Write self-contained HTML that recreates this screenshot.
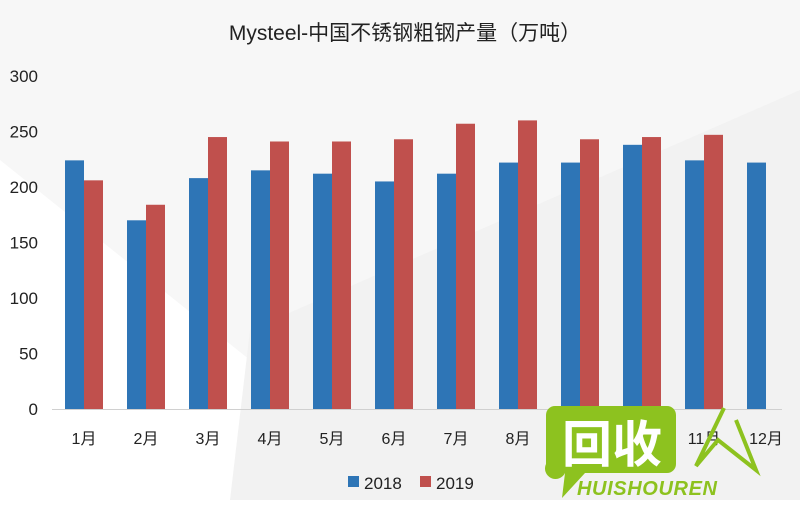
<!DOCTYPE html>
<html><head><meta charset="utf-8"><style>
body{margin:0;width:800px;height:500px;overflow:hidden;background:#fff;font-family:"Liberation Sans","Noto Sans CJK SC",sans-serif}
</style></head><body>
<svg id="c" width="800" height="500" xmlns="http://www.w3.org/2000/svg">
<polygon points="0,0 800,0 800,140 300,400 0,160" fill="#f7f7f7"/>
<polygon points="230,500 250,330 800,90 800,500" fill="#f2f2f2"/>
<text x="405" y="40" text-anchor="middle" font-size="21" fill="#222">Mysteel-中国不锈钢粗钢产量（万吨）</text>
<g id="axis"></g><g id="bars"></g>
<g>
<rect x="348" y="476" width="11" height="11" fill="#2e75b6"/>
<text x="364" y="489" font-size="17" fill="#222">2018</text>
<rect x="420" y="476" width="11" height="11" fill="#c0504d"/>
<text x="436" y="489" font-size="17" fill="#222">2019</text>
</g>
<g>
<path d="M555,406 h112 a9,9 0 0 1 9,9 v49 a9,9 0 0 1 -9,9 h-82 l-23,25 l3,-25 a9,9 0 0 1 -19,-9 v-49 a9,9 0 0 1 9,-9z" fill="#8dc21f"/>
<text x="612" y="462" text-anchor="middle" font-size="50" font-weight="bold" fill="#fff">回收</text>
<text x="577" y="495" font-size="20" font-style="italic" font-weight="bold" fill="#8dc21f" textLength="140">HUISHOUREN</text>
<polyline points="724,408 696,466 718,440 756,470 736,420" fill="none" stroke="#8dc21f" stroke-width="4"/>
</g>
</svg>
<script>
const categories=["1月","2月","3月","4月","5月","6月","7月","8月","9月","10月","11月","12月"];
const series2018=[224,170,208,215,212,205,212,222,222,238,224,222];
const series2019=[206,184,245,241,241,243,257,260,243,245,247,null];
const yTicks=[0,50,100,150,200,250,300];
const ns="http://www.w3.org/2000/svg";
const y0=409,pxPer=333/300,left=53,step=62,bw=19;
const y=v=>y0-v*pxPer;
const xg=i=>left+i*step+12;
function mk(t,a,p){const e=document.createElementNS(ns,t);for(const k in a)e.setAttribute(k,a[k]);p.appendChild(e);return e;}
const ax=document.getElementById('axis'),bars=document.getElementById('bars');
yTicks.forEach(v=>{const t=mk('text',{x:38,y:y(v)+6,'text-anchor':'end','font-size':17,fill:'#222'},ax);t.textContent=v;

});
const l=mk('line',{x1:52,x2:782,y1:y0+0.5,y2:y0+0.5,stroke:'#d0d0d0'},ax);


categories.forEach((c,i)=>{const t=mk('text',{x:xg(i)+bw,y:444,'text-anchor':'middle','font-size':16,fill:'#222'},ax);t.textContent=c;


[[series2018,'#2e75b6',0],[series2019,'#c0504d',bw]].forEach(([s,col,off])=>{const v=s[i];if(v==null)return;
const r=mk('rect',{x:xg(i)+off,y:y(v),width:bw,height:v*pxPer,fill:col},bars);

});});
</script>
</body></html>
